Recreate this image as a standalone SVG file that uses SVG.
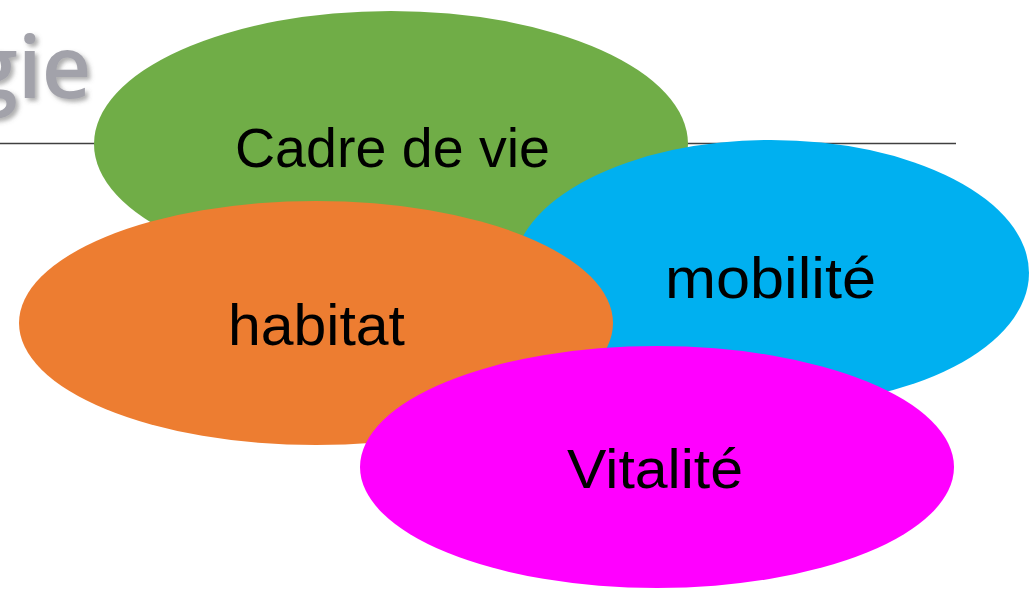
<svg xmlns="http://www.w3.org/2000/svg" width="1029" height="590" viewBox="0 0 1029 590">
  <defs>
    <filter id="shadow" x="-20%" y="-20%" width="140%" height="140%">
      <feDropShadow dx="3" dy="3" stdDeviation="2" flood-color="#606060" flood-opacity="0.5"/>
    </filter>
  </defs>
  <style>
    .lbl { font-family: "Liberation Sans", Arial, sans-serif; fill: #000000; }
    .title { font-family: "Open Sans", "Liberation Sans", sans-serif; font-weight: 600; fill: #A2A2AA; }
  </style>
  <rect x="0" y="0" width="1029" height="590" fill="#FFFFFF"/>
  <text class="title" x="-30" y="98" font-size="86" filter="url(#shadow)">gie</text>
  <line x1="0" y1="143.5" x2="956" y2="143.5" stroke="#404040" stroke-width="1.5"/>
  <g id="cadre">
    <ellipse cx="391" cy="144" rx="297" ry="133" fill="#70AD47"/>
    <text class="lbl" x="235" y="167" font-size="56" textLength="315" lengthAdjust="spacingAndGlyphs">Cadre de vie</text>
  </g>
  <g id="mobilite">
    <ellipse cx="771" cy="273" rx="258" ry="133" fill="#00B0F0"/>
    <text class="lbl" x="665" y="298" font-size="58" textLength="211" lengthAdjust="spacingAndGlyphs">mobilité</text>
  </g>
  <g id="habitat">
    <ellipse cx="316" cy="323" rx="297" ry="122" fill="#ED7D31"/>
    <text class="lbl" x="228" y="345" font-size="58" textLength="177" lengthAdjust="spacingAndGlyphs">habitat</text>
  </g>
  <g id="vitalite">
    <ellipse cx="657" cy="467" rx="297" ry="121" fill="#FF00FF"/>
    <text class="lbl" x="567" y="488" font-size="56" textLength="176" lengthAdjust="spacingAndGlyphs">Vitalité</text>
  </g>
  <g id="connectors"/>
</svg>
